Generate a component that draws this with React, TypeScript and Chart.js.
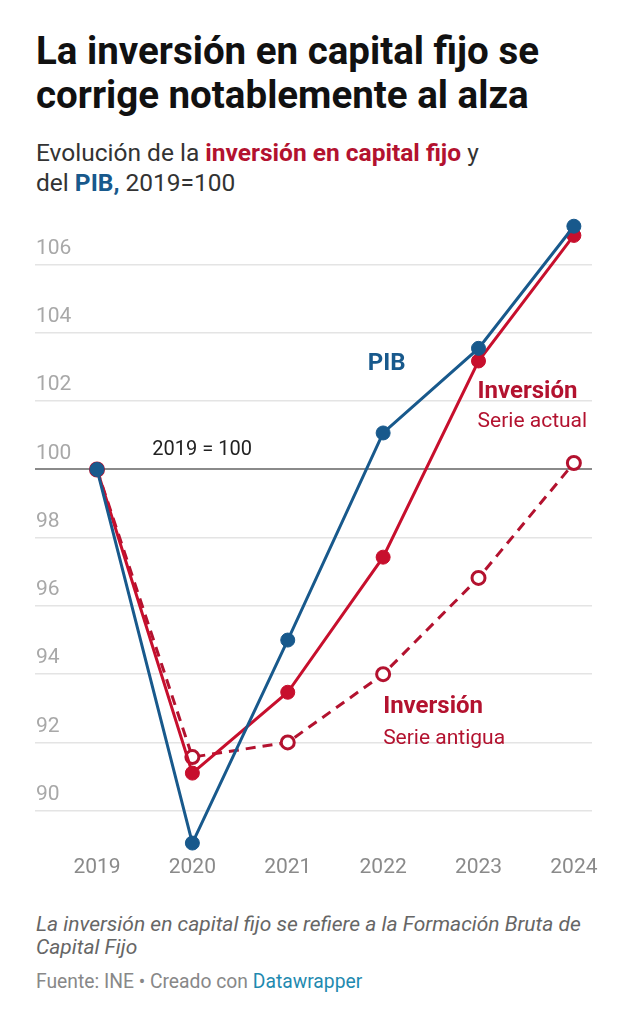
import React, { useEffect, useRef } from "react";
import { Chart, registerables } from "chart.js";

Chart.register(...registerables);

const years = [2019, 2020, 2021, 2022, 2023, 2024];
const pib = [100, 89.05, 95.0, 101.07, 103.55, 107.13];
const inversionActual = [100, 91.1, 93.47, 97.43, 103.18, 106.86];
const inversionAntigua = [100, 91.57, 92.0, 94.0, 96.82, 100.19];
const yTicks = [90, 92, 94, 96, 98, 100, 102, 104, 106];

const BLUE = "#18598c";
const RED = "#c70f2d";
const RED_TEXT = "#b3122f";
const FONT = "Roboto, 'Noto Sans', sans-serif";

type Note = { text: string; x: number; y: number; color: string; size: number; bold: boolean };
const notes: Note[] = [
  { text: "PIB", x: 2021.84, y: 103.09, color: BLUE, size: 24, bold: true },
  { text: "Inversión", x: 2022.99, y: 102.27, color: RED_TEXT, size: 24, bold: true },
  { text: "Serie actual", x: 2022.99, y: 101.39, color: RED_TEXT, size: 21, bold: false },
  { text: "Inversión", x: 2022.0, y: 93.04, color: RED_TEXT, size: 24, bold: true },
  { text: "Serie antigua", x: 2022.0, y: 92.1, color: RED_TEXT, size: 21, bold: false },
  { text: "2019 = 100", x: 2019.58, y: 100.57, color: "#222", size: 20, bold: false },
];

const notesPlugin = {
  id: "notes",
  afterDatasetsDraw(chart: any) {
    const { ctx, scales } = chart;
    ctx.save();
    ctx.textAlign = "left";
    ctx.textBaseline = "middle";
    for (const n of notes) {
      ctx.font = `${n.bold ? "bold " : ""}${n.size}px ${FONT}`;
      ctx.fillStyle = n.color;
      ctx.fillText(n.text, scales.x.getPixelForValue(n.x), scales.y.getPixelForValue(n.y));
    }
    ctx.restore();
  },
};

function toXY(vals: number[]) {
  return vals.map((v, i) => ({ x: years[i], y: v }));
}

export default function App() {
  const ref = useRef<HTMLCanvasElement>(null);
  useEffect(() => {
    if (!ref.current) return;
    const chart = new Chart(ref.current, {
      type: "line",
      data: {
        datasets: [
          {
            label: "PIB",
            data: toXY(pib),
            borderColor: BLUE,
            backgroundColor: BLUE,
            borderWidth: 3,
            pointRadius: 7,
            pointBorderWidth: 1,
            pointBackgroundColor: BLUE,
            pointBorderColor: BLUE,
            clip: false as any,
          },
          {
            label: "Inversión serie actual",
            data: toXY(inversionActual),
            borderColor: RED,
            backgroundColor: RED,
            borderWidth: 3,
            pointRadius: 7,
            pointBorderWidth: 1,
            pointBackgroundColor: RED,
            pointBorderColor: RED,
            clip: false as any,
          },
          {
            label: "Inversión serie antigua",
            data: toXY(inversionAntigua),
            borderColor: RED_TEXT,
            backgroundColor: "#ffffff",
            borderWidth: 3,
            borderDash: [10, 7],
            pointRadius: 6.5,
            pointBorderWidth: 3,
            pointBackgroundColor: "#ffffff",
            pointBorderColor: RED_TEXT,
            clip: false as any,
          },
        ],
      },
      options: {
        animation: false,
        responsive: false,
        devicePixelRatio: 1,
        layout: { padding: { left: 35, right: 40, top: 17, bottom: 0 } },
        plugins: { legend: { display: false }, tooltip: { enabled: false } },
        scales: {
          x: {
            type: "linear",
            min: 2018.35,
            max: 2024.19,
            grid: { display: false },
            border: { display: false },
            afterBuildTicks: (s: any) => {
              s.ticks = years.map((v) => ({ value: v }));
            },
            afterFit: (s: any) => {
              s.height = 35;
            },
            ticks: {
              callback: (v: any) => String(v),
              color: "#8a8a8a",
              font: { family: FONT, size: 21 },
              padding: -8,
              maxRotation: 0,
              autoSkip: false,
            },
          },
          y: {
            type: "linear",
            min: 88.7,
            max: 107.4,
            afterBuildTicks: (s: any) => {
              s.ticks = yTicks.map((v) => ({ value: v }));
            },
            afterFit: (s: any) => {
              s.width = 0;
            },
            border: { display: false },
            grid: {
              drawTicks: false,
              color: (c: any) => (c.tick && c.tick.value === 100 ? "#8a8a8a" : "#e4e4e4"),
              lineWidth: (c: any) => (c.tick && c.tick.value === 100 ? 2 : 1.5),
            },
            ticks: {
              mirror: true,
              padding: 1,
              labelOffset: -16,
              color: "#a8a8a8",
              font: { family: FONT, size: 21 },
              callback: (v: any) => String(v),
            },
          },
        },
      },
      plugins: [notesPlugin],
    });
    return () => chart.destroy();
  }, []);

  return (
    <div style={{ position: "absolute", left: 0, top: 0, width: 632, height: 1024, background: "#fff", fontFamily: FONT }}>
      <div
        style={{
          position: "absolute",
          left: 36,
          top: 29,
          fontSize: 38.5,
          lineHeight: "44px",
          fontWeight: 700,
          color: "#111",
          whiteSpace: "nowrap",
        }}
      >
        La inversión en capital fijo se
        <br />
        corrige notablemente al alza
      </div>
      <div
        style={{
          position: "absolute",
          left: 36,
          top: 138,
          fontSize: 24.5,
          lineHeight: "30px",
          color: "#333",
          whiteSpace: "nowrap",
        }}
      >
        Evolución de la <b style={{ color: RED_TEXT }}>inversión en capital fijo</b> y
        <br />
        del <b style={{ color: BLUE }}>PIB,</b> 2019=100
      </div>
      <canvas
        ref={ref}
        width={632}
        height={690}
        style={{ position: "absolute", left: 0, top: 200, width: 632, height: 690 }}
      />
      <div
        style={{
          position: "absolute",
          left: 36,
          top: 913,
          fontSize: 21,
          lineHeight: "23px",
          fontStyle: "italic",
          color: "#666",
          whiteSpace: "nowrap",
        }}
      >
        La inversión en capital fijo se refiere a la Formación Bruta de
        <br />
        Capital Fijo
      </div>
      <div
        style={{
          position: "absolute",
          left: 36,
          top: 971,
          fontSize: 19.3,
          lineHeight: "22px",
          color: "#888",
          whiteSpace: "nowrap",
        }}
      >
        Fuente: INE • Creado con <span style={{ color: "#1f8ab0" }}>Datawrapper</span>
      </div>
    </div>
  );
}
